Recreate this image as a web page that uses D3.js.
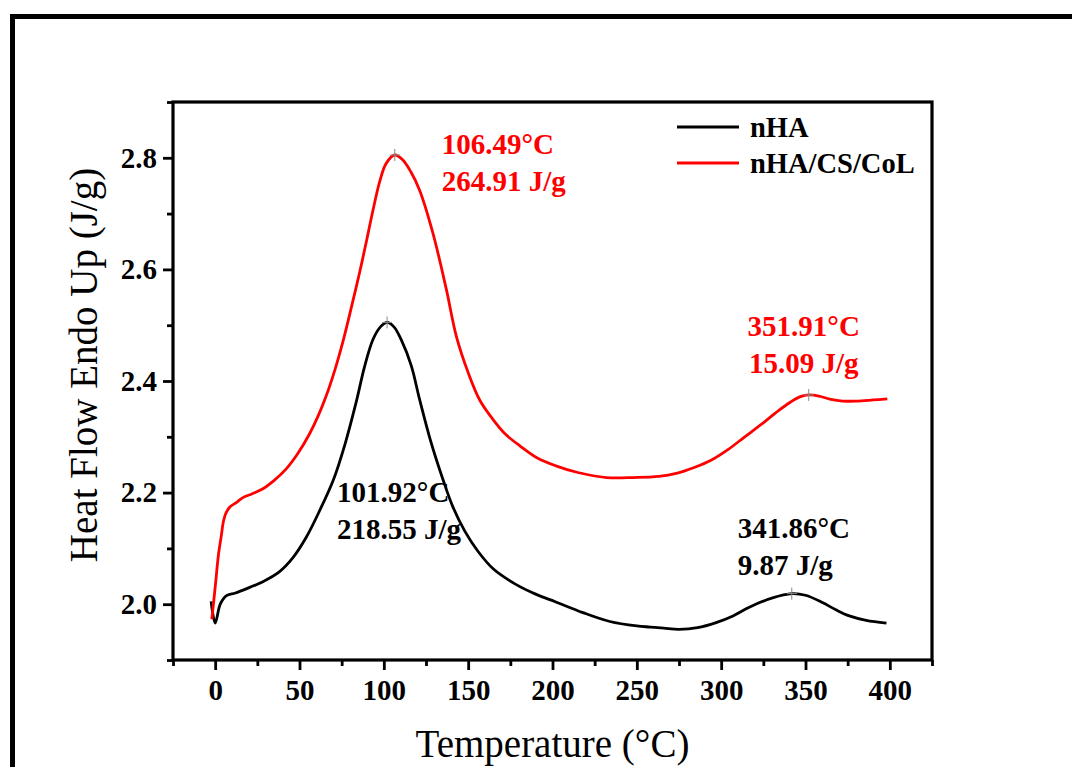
<!DOCTYPE html>
<html>
<head>
<meta charset="utf-8">
<script src="https://cdn.jsdelivr.net/npm/d3@7"></script>
<style>
  html, body { margin: 0; padding: 0; background: #fff; }
  svg { display: block; }
  text { font-family: "Liberation Serif", "Times New Roman", serif; }
</style>
</head>
<body>
<div id="chart"></div>
<script>
// DSC curves
const tempNHA = [-2.4, 0, 3, 6.5, 12, 18, 28, 38, 46, 54, 62, 70, 77, 83.6, 88.5, 93.5, 98, 102, 106, 110.3, 116.3, 121.2, 128, 135, 141, 148, 156, 165, 178, 190, 202, 218, 234, 250, 258, 266, 275, 286, 297, 307, 317, 330, 342, 350, 360, 368, 376, 386, 398]
const heatNHA = [2.005, 1.966, 2.0, 2.015, 2.020, 2.027, 2.040, 2.058, 2.083, 2.120, 2.168, 2.222, 2.287, 2.362, 2.425, 2.474, 2.497, 2.505, 2.497, 2.474, 2.427, 2.367, 2.29, 2.224, 2.174, 2.131, 2.094, 2.063, 2.036, 2.018, 2.004, 1.985, 1.969, 1.961, 1.959, 1.957, 1.955, 1.958, 1.967, 1.979, 1.995, 2.011, 2.019, 2.016, 2.003, 1.990, 1.979, 1.971, 1.966]

const tempComp = [-2, 0, 2, 3.6, 5, 6.5, 9, 12.5, 16.4, 22, 28.3, 35, 42, 49, 55.9, 61, 65.8, 71, 75.7, 81, 85.6, 90, 93.5, 97.5, 101.4, 106.5, 111, 116, 121.2, 129.1, 137, 143, 150, 157, 165, 172, 181, 191, 202, 215, 232, 248, 263, 274, 284, 294, 304, 314, 325, 334, 341, 347, 352, 358, 365, 372, 380, 390, 398.5]
const heatComp = [1.973, 2.03, 2.09, 2.122, 2.15, 2.164, 2.175, 2.182, 2.191, 2.198, 2.207, 2.222, 2.242, 2.27, 2.305, 2.337, 2.373, 2.42, 2.47, 2.535, 2.594, 2.655, 2.705, 2.757, 2.79, 2.805, 2.797, 2.775, 2.742, 2.665, 2.565, 2.48, 2.415, 2.365, 2.33, 2.305, 2.283, 2.262, 2.248, 2.236, 2.227, 2.227, 2.229, 2.235, 2.245, 2.258, 2.277, 2.300, 2.325, 2.347, 2.362, 2.372, 2.375, 2.373, 2.367, 2.364, 2.364, 2.366, 2.368]

const seriesNames = ['nHA', 'nHA/CS/CoL']
const seriesColors = ['#000000', '#ff0000']

// peak annotations
const peakSeries = [0, 0, 1, 1]
const peakTemp = [101.92, 341.86, 106.49, 351.91]
const peakHeat = [2.505, 2.019, 2.805, 2.375]
const peakLines = [
  ['101.92°C', '218.55 J/g'],
  ['341.86°C', '9.87 J/g'],
  ['106.49°C', '264.91 J/g'],
  ['351.91°C', '15.09 J/g']
]
// label placement relative to the peak marker (px)
const peakLabelAt = [
  {dx: -50, dy: 180, anchor: 'start'},
  {dx: -54, dy: -56, anchor: 'start'},
  {dx: 47, dy: -1, anchor: 'start'},
  {dx: -5, dy: -59, anchor: 'middle'}
]

const xTicks = [0, 50, 100, 150, 200, 250, 300, 350, 400]
const xMinor = [-25, 25, 75, 125, 175, 225, 275, 325, 375, 425]
const yTicks = [2.0, 2.2, 2.4, 2.6, 2.8]
const yMinor = [1.9, 2.1, 2.3, 2.5, 2.7, 2.9]

const W = 1072
const H = 767
const box = {left: 173, top: 102, right: 932, bottom: 660}

const svg = d3.select('#chart').append('svg')
  .attr('width', W)
  .attr('height', H)

// outer figure frame (runs off the right/bottom edge)
svg.append('rect')
  .attr('x', 12.5).attr('y', 16.5)
  .attr('width', 1200).attr('height', 900)
  .attr('fill', 'none')
  .attr('stroke', '#000')
  .attr('stroke-width', 5)

const x = d3.scaleLinear().domain([-25, 425]).range([box.left, box.right])
const y = d3.scaleLinear().domain([1.9, 2.9]).range([box.bottom, box.top])

// axes
let gx = svg.append('g').attr('transform', `translate(0,${box.bottom})`)
  .call(d3.axisBottom(x).tickValues(xTicks).tickSize(10).tickPadding(9).tickFormat(d3.format('d')))
let gxm = svg.append('g').attr('transform', `translate(0,${box.bottom})`)
  .call(d3.axisBottom(x).tickValues(xMinor).tickSize(6).tickFormat(''))
let gy = svg.append('g').attr('transform', `translate(${box.left},0)`)
  .call(d3.axisLeft(y).tickValues(yTicks).tickSize(10).tickPadding(6).tickFormat(d3.format('.1f')))
let gym = svg.append('g').attr('transform', `translate(${box.left},0)`)
  .call(d3.axisLeft(y).tickValues(yMinor).tickSize(6).tickFormat(''))

;[gx, gxm, gy, gym].forEach(g => {
  g.select('.domain').remove()
  g.selectAll('line').attr('stroke', '#000').attr('stroke-width', 2.8)
  g.selectAll('text')
    .attr('fill', '#000')
    .style('font-family', '"Liberation Serif", "Times New Roman", serif')
    .style('font-size', '29px')
    .style('font-weight', 'bold')
})

// plot frame
svg.append('rect')
  .attr('x', box.left).attr('y', box.top)
  .attr('width', box.right - box.left).attr('height', box.bottom - box.top)
  .attr('fill', 'none')
  .attr('stroke', '#000')
  .attr('stroke-width', 3.2)

// curves
const line = d3.line()
  .x(d => x(d[0]))
  .y(d => y(d[1]))
  .curve(d3.curveCatmullRom.alpha(0.5))

const series = [
  d3.zip(tempNHA, heatNHA),
  d3.zip(tempComp, heatComp)
]

svg.selectAll('.curve')
  .data(series)
  .enter()
  .append('path')
  .attr('class', 'curve')
  .attr('d', line)
  .attr('fill', 'none')
  .attr('stroke', (d, i) => seriesColors[i])
  .attr('stroke-width', 2.8)
  .attr('stroke-linejoin', 'round')

// peak markers
const peaks = peakTemp.map((t, i) => ({t, v: peakHeat[i], s: peakSeries[i], lines: peakLines[i], at: peakLabelAt[i]}))
const pk = svg.selectAll('.peak').data(peaks).enter().append('g').attr('class', 'peak')
pk.append('path')
  .attr('d', d => {
    let px = x(d.t), py = y(d.v)
    return `M${px - 5},${py}H${px + 5}M${px},${py - 6}V${py + 6}`
  })
  .attr('stroke', '#888')
  .attr('stroke-width', 1)

// peak labels
const lab = svg.selectAll('.plabel').data(peaks).enter().append('text')
  .attr('class', 'plabel')
  .attr('x', d => x(d.t) + d.at.dx)
  .attr('y', d => y(d.v) + d.at.dy)
  .attr('text-anchor', d => d.at.anchor)
  .attr('fill', d => seriesColors[d.s])
  .style('font-size', '29px')
  .style('font-weight', 'bold')
lab.selectAll('tspan').data(d => d.lines.map(l => ({l, d}))).enter().append('tspan')
  .attr('x', o => x(o.d.t) + o.d.at.dx)
  .attr('dy', (o, i) => i === 0 ? 0 : 37)
  .text(o => o.l)

// legend
const legend = svg.selectAll('.legend')
  .data(seriesNames)
  .enter()
  .append('g')
  .attr('class', 'legend')
  .attr('transform', (d, i) => `translate(677,${127 + i * 36})`)
legend.append('line')
  .attr('x1', 0).attr('x2', 62)
  .attr('stroke', (d, i) => seriesColors[i])
  .attr('stroke-width', 2.8)
legend.append('text')
  .text(d => d)
  .attr('x', 73)
  .attr('y', 10)
  .attr('fill', '#000')
  .style('font-size', '28.5px')
  .style('font-weight', 'bold')

// axis titles
svg.append('text')
  .text('Temperature (°C)')
  .attr('x', (box.left + box.right) / 2)
  .attr('y', 757)
  .attr('text-anchor', 'middle')
  .attr('fill', '#000')
  .style('font-size', '39px')

svg.append('text')
  .text('Heat Flow Endo Up (J/g)')
  .attr('transform', `translate(97,365) rotate(-90)`)
  .attr('text-anchor', 'middle')
  .attr('fill', '#000')
  .style('font-size', '39px')
</script>
</body>
</html>
